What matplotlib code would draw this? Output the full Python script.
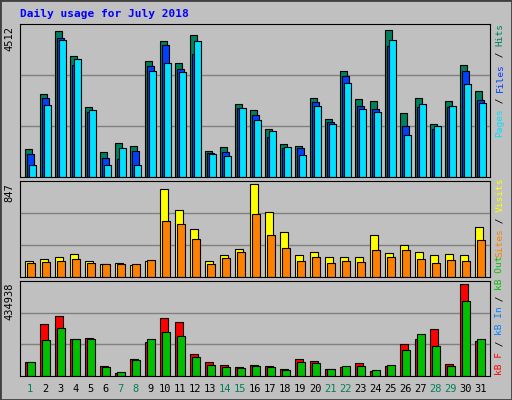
import numpy as np
import matplotlib
matplotlib.use('Agg')
import matplotlib.pyplot as plt
from matplotlib.patches import Rectangle

days = list(range(1, 32))
weekend = [1, 7, 8, 14, 15, 21, 22, 28, 29]

hits = [851, 2542, 4479, 3710, 2143, 759, 1036, 943, 3556, 4171, 3495, 4366,
        789, 912, 2240, 2056, 1471, 1005, 943, 2419, 1775, 3249, 2389, 2327,
        4512, 1958, 2419, 1625, 2327, 3454, 2645]
files = [697, 2419, 4264, 3454, 1999, 574, 543, 789, 3403, 4048, 3311, 3772,
         728, 759, 2117, 1902, 1246, 902, 882, 2296, 1682, 3095, 2173, 2081,
         4018, 1559, 2143, 1471, 2143, 3249, 2358]
pages = [359, 2204, 4202, 3618, 2050, 359, 882, 359, 3249, 3495, 3218, 4171,
         697, 636, 2117, 1743, 1410, 912, 667, 2173, 1620, 2880, 2081, 1989,
         4202, 1282, 2235, 1559, 2173, 2850, 2266]

visits = [147, 166, 184, 212, 147, 120, 129, 110, 147, 807, 614, 439,
          147, 203, 258, 847, 595, 408, 203, 230, 184, 184, 184, 387,
          221, 295, 230, 203, 212, 203, 460]
sites = [129, 138, 147, 166, 129, 120, 120, 120, 157, 516, 488, 350,
         120, 175, 230, 580, 387, 267, 147, 184, 129, 147, 138, 249,
         184, 249, 166, 129, 157, 147, 341]

kbf = [66907, 248133, 286369, 175276, 178463, 47789, 14337, 81243, 159343, 273624, 254504, 104354,
       66907, 52568, 43008, 52568, 47789, 33451, 81243, 71686, 33451, 43008, 62128, 23894,
       47789, 153000, 175276, 221590, 57347, 434938, 164123]
kbin = [0] * 31
kbout = [66907, 171726, 229072, 175276, 175276, 43008, 19116, 76465, 175276, 210810, 189272, 90015,
         52568, 43008, 38226, 47789, 43008, 28672, 66907, 62128, 33451, 47789, 47789, 28672,
         52568, 124225, 200957, 143386, 47789, 353697, 175276]

BG = '#c0c0c0'
C_HITS, C_FILES, C_PAGES = '#00805c', '#0040ff', '#00e0ff'
C_VIS, C_SITES = '#ffff00', '#ff8000'
C_KBF, C_KBIN, C_KBOUT = '#ff0000', '#0080ff', '#00c000'

fig = plt.figure(figsize=(5.12, 4.0), dpi=100, facecolor=BG)
fig.patches.append(Rectangle((0, 0), 1, 1, transform=fig.transFigure, fill=False,
                             edgecolor='#404040', linewidth=2))
W, H = 512.0, 400.0
mono = 'DejaVu Sans Mono'

def panel(top, bottom):
    ax = fig.add_axes([20 / W, 1 - bottom / H, 470 / W, (bottom - top) / H])
    ax.set_facecolor(BG)
    ax.set_xticks([])
    ax.set_yticks([])
    for s in ax.spines.values():
        s.set_color('black')
    for f in (1 / 3, 2 / 3):
        ax.plot([0, 1], [f, f], color='#808080', lw=1, transform=ax.transAxes, zorder=0)
    ax.set_xlim(0.32, 31.65)
    return ax

x = np.array(days, dtype=float)
kw = dict(edgecolor='black', linewidth=0.8, align='edge')

ax1 = panel(24, 177)
ax1.bar(x - 0.35, hits, 0.5, color=C_HITS, **kw)
ax1.bar(x - 0.22, files, 0.5, color=C_FILES, **kw)
ax1.bar(x - 0.1, pages, 0.5, color=C_PAGES, **kw)
ax1.set_ylim(0, 4708)

ax2 = panel(181, 277)
ax2.bar(x - 0.35, visits, 0.55, color=C_VIS, **kw)
ax2.bar(x - 0.2, sites, 0.55, color=C_SITES, **kw)
ax2.set_ylim(0, 878)

ax3 = panel(281, 376)
ax3.bar(x - 0.35, kbf, 0.55, color=C_KBF, **kw)
ax3.bar(x - 0.2, kbout, 0.55, color=C_KBOUT, **kw)
ax3.set_ylim(0, 450870)

# day labels
for d in days:
    fig.text((20 + (d - 0.32) * 470 / 31.33) / W, 1 - 389 / H, str(d), ha='center', va='center',
             family=mono, fontsize=7.5, color=C_HITS if d in weekend else 'black')

# max labels on left
for txt, ytop in [('4512', 26), ('847', 183), ('434938', 283)]:
    fig.text(9 / W, 1 - ytop / H, txt, rotation=90, ha='center', va='top',
             family=mono, fontsize=7.5)

# multicolour right labels, reading bottom to top
fs = 6.8
cpx = 0.602 * fs * 100 / 72
def side_label(pieces, ybottom):
    off = 0
    for t, c in pieces:
        fig.text(500 / W, (H - ybottom + off * cpx) / H, t, rotation=90, ha='center',
                 va='bottom', family=mono, fontsize=fs, color=c)
        off += len(t)

side_label([('Pages', C_PAGES), (' / ', 'black'), ('Files', C_FILES), (' / ', 'black'),
            ('Hits', C_HITS)], 137)
side_label([('Sites', C_SITES), (' / ', 'black'), ('Visits', C_VIS)], 257)
side_label([('kB F', C_KBF), (' / ', 'black'), ('kB In', C_KBIN), (' / ', 'black'),
            ('kB Out', C_KBOUT)], 375)

fig.text(20 / W, 1 - 14 / H, 'Daily usage for July 2018', ha='left', va='center',
         family=mono, fontsize=8, fontweight='bold', color='#0000ff')

fig.savefig('out.png', dpi=100, facecolor=BG)
